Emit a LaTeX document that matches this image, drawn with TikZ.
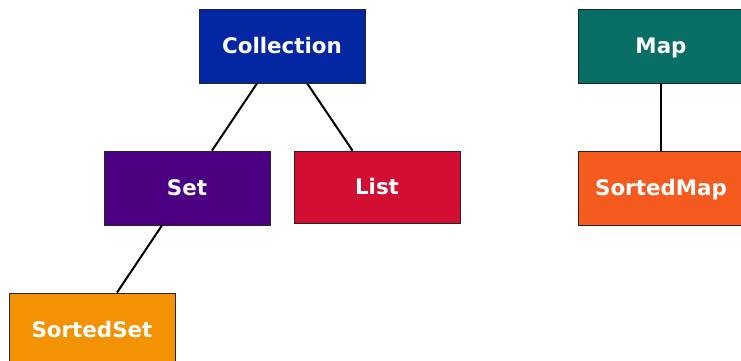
\documentclass[tikz,border=0pt]{standalone}
\usepackage{fontspec}
\setmainfont{DejaVu Sans}
\usepackage{tikz}

\definecolor{collblue}{HTML}{0327A3}
\definecolor{mapteal}{HTML}{066E64}
\definecolor{setpurple}{HTML}{4B0082}
\definecolor{listred}{HTML}{D20F32}
\definecolor{smaporange}{HTML}{F55B1F}
\definecolor{ssetorange}{HTML}{F39304}

\begin{document}
\begin{tikzpicture}[x=1pt,y=1pt,
  iface/.style={draw=black!85,line width=0.8pt,minimum width=166pt,minimum height=74pt,
    inner sep=0pt,text=white,font=\fontsize{21.4}{25}\selectfont\bfseries,
    text height=15.6pt,text depth=0pt},
  link/.style={line width=2pt}]
\useasboundingbox (0,0) rectangle (741,-361);

\node[iface,fill=collblue] (coll) at (282,-46) {Collection};
\node[iface,fill=mapteal] (map) at (661,-46) {Map};

\node[iface,fill=setpurple] (set) at (187,-188) {Set};
\node[iface,fill=listred,minimum height=72pt] (list) at (377,-187) {List};
\node[iface,fill=smaporange] (smap) at (661,-188) {SortedMap};

\node[iface,fill=ssetorange] (sset) at (92,-330) {SortedSet};

\draw[link] (coll) -- (set);
\draw[link] (coll) -- (list);
\draw[link] (set) -- (sset);
\draw[link] (map) -- (smap);
\end{tikzpicture}
\end{document}
